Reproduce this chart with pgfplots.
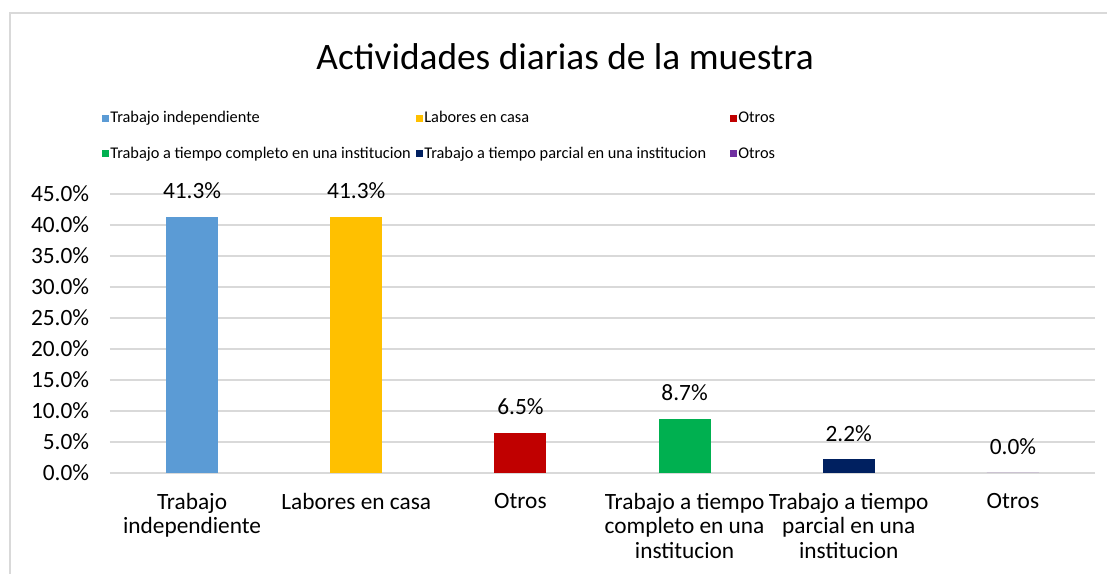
\documentclass[border=0pt]{standalone}
\usepackage{pgfplots}
\pgfplotsset{compat=1.18}
\usepackage{fontspec}
\setmainfont{Carlito}

\definecolor{cBlue}{HTML}{5B9BD5}
\definecolor{cYellow}{HTML}{FFC000}
\definecolor{cRed}{HTML}{C00000}
\definecolor{cGreen}{HTML}{00B050}
\definecolor{cNavy}{HTML}{002060}
\definecolor{cPurple}{HTML}{7030A0}
\definecolor{gridgray}{HTML}{D9D9D9}

\newcommand{\legtxt}[1]{\makebox[183pt][l]{#1}}

\begin{document}
\begin{tikzpicture}
\begin{axis}[
    scale only axis,
    width=591pt, height=167.4pt,
    /pgf/number format/assume math mode=true,
    ybar, bar width=31.2pt,
    xmin=-0.5, xmax=5.5,
    ymin=0, ymax=45,
    ytick={0,5,...,45},
    yticklabel={\pgfmathprintnumber[fixed,fixed zerofill,precision=1]{\tick}\%},
    xtick={0,1,2,3,4,5},
    xticklabels={{Trabajo\\independiente},{Labores en casa},{Otros},
                 {Trabajo a tiempo\\completo en una\\institucion},
                 {Trabajo a tiempo\\parcial en una\\institucion},{Otros}},
    xticklabel style={align=center, font=\fontsize{14}{14.7}\selectfont, yshift=-8.4pt},
    yticklabel style={font=\fontsize{14}{16}\selectfont, xshift=-9pt},
    major tick length=0pt,
    axis line style={draw=none},
    ymajorgrids=true,
    grid style={gridgray, line width=1pt},
    nodes near coords={\pgfmathprintnumber[fixed,fixed zerofill,precision=1]{\pgfplotspointmeta}\%},
    every node near coord/.append style={font=\fontsize{14}{16}\selectfont, anchor=base, yshift=11pt, black},
    title={Actividades diarias de la muestra},
    title style={at={(0.462,1.491)}, anchor=center, yshift=-6pt, font=\fontsize{22.4}{26}\selectfont},
    legend columns=3,
    legend cell align=left,
    legend style={at={(-0.0132,1.314)}, anchor=north west, draw=none, fill=none,
        font=\fontsize{9.8}{11}\selectfont, row sep=11pt,
        nodes={inner sep=0.6pt, text height=7pt, text depth=2pt}},
    legend image code/.code={\fill[#1,draw=none] (0pt,-2.1pt) rectangle (4.2pt,2.1pt);},
]
\addplot[fill=cBlue, draw=none, bar shift=0pt] coordinates {(0,41.3)};
\addplot[fill=cYellow, draw=none, bar shift=0pt] coordinates {(1,41.3)};
\addplot[fill=cRed, draw=none, bar shift=0pt] coordinates {(2,6.5)};
\addplot[fill=cGreen, draw=none, bar shift=0pt] coordinates {(3,8.7)};
\addplot[fill=cNavy, draw=none, bar shift=0pt] coordinates {(4,2.2)};
\addplot[fill=cPurple, draw=none, bar shift=0pt] coordinates {(5,0.0)};
\legend{\legtxt{Trabajo independiente},\legtxt{Labores en casa},\legtxt{Otros},
        \legtxt{Trabajo a tiempo completo en una institucion},\legtxt{Trabajo a tiempo parcial en una institucion},\legtxt{Otros}}
\end{axis}
\draw[gridgray, line width=1pt] (-60pt,-70pt) -- (-60pt,276pt) -- (700pt,276pt);
\pgfresetboundingbox
\path[use as bounding box] (-66pt,-60.6pt) rectangle (598.2pt,283.8pt);
\end{tikzpicture}
\end{document}
